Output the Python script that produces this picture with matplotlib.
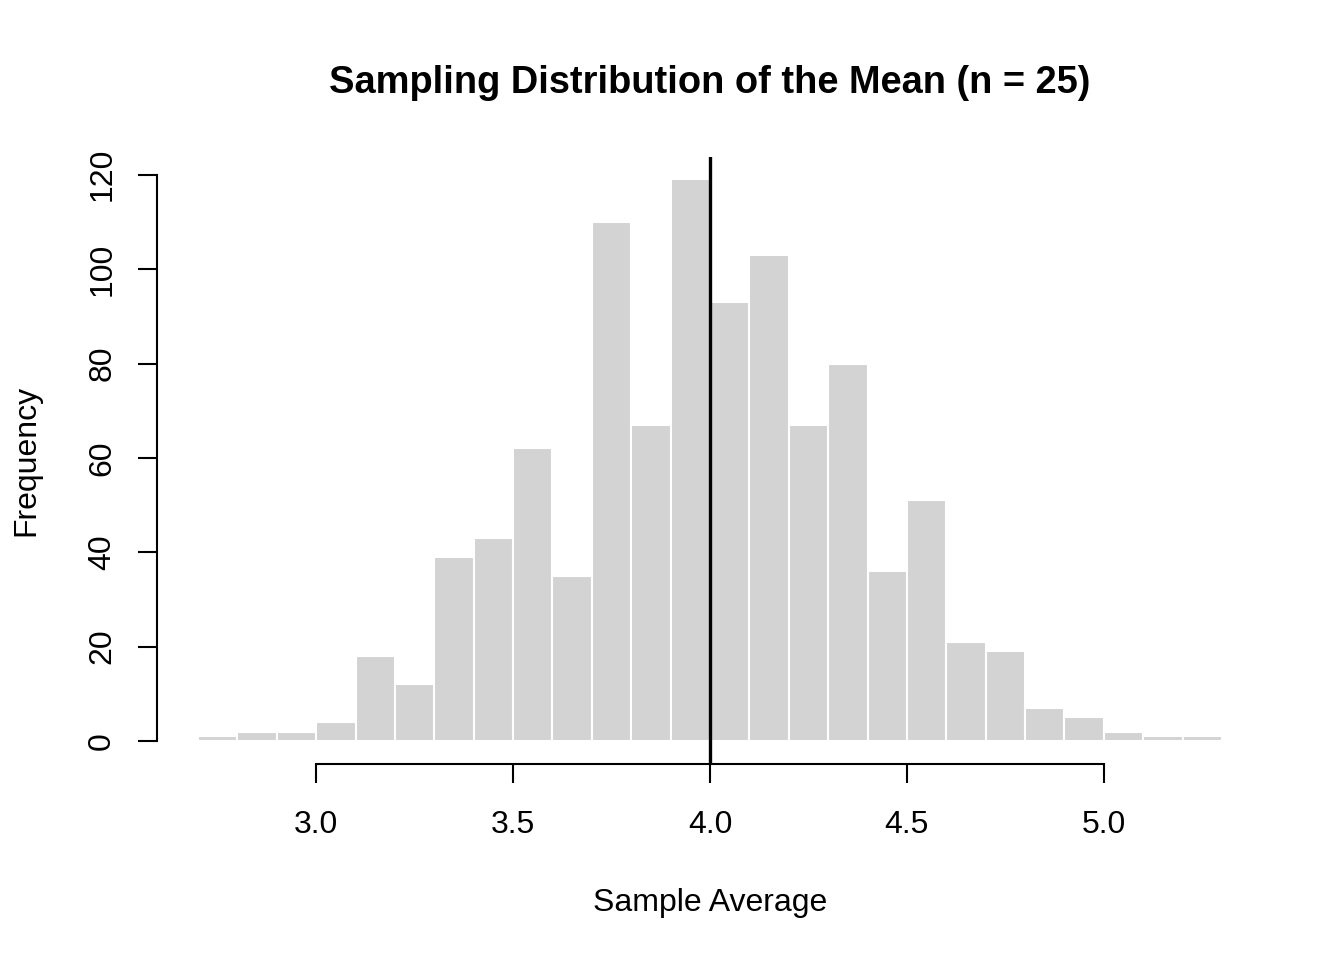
import matplotlib
matplotlib.use("Agg")
import matplotlib.pyplot as plt
import numpy as np

plt.rcParams['font.family'] = ['Liberation Sans', 'DejaVu Sans']

bin_edges = [round(2.7 + 0.1 * i, 1) for i in range(27)]
counts = [1, 2, 2, 4, 18, 12, 39, 43, 62, 35, 110, 67, 119,
          93, 103, 67, 80, 36, 51, 21, 19, 7, 5, 2, 1, 1]
x_ticks = [3.0, 3.5, 4.0, 4.5, 5.0]
x_tick_labels = ["3.0", "3.5", "4.0", "4.5", "5.0"]
y_ticks = [0, 20, 40, 60, 80, 100, 120]
mean_value = 4.0

fig = plt.figure(figsize=(13.44, 9.6), dpi=100)
ax = fig.add_axes([157/1344, 1 - 763.5/960, (1263 - 157)/1344, (763.5 - 157)/960])

lefts = bin_edges[:-1]
widths = [bin_edges[i + 1] - bin_edges[i] for i in range(len(counts))]
ax.bar(lefts, counts, width=widths, align='edge', color='#D3D3D3',
       edgecolor='white', linewidth=1.5)
ax.axvline(mean_value, color='black', linewidth=2.4)

xr = bin_edges[-1] - bin_edges[0]
ax.set_xlim(bin_edges[0] - 0.04 * xr, bin_edges[-1] + 0.04 * xr)
ymax = max(counts)
ax.set_ylim(-0.04 * ymax, ymax * 1.04)

for s in ['top', 'right']:
    ax.spines[s].set_visible(False)
ax.spines['left'].set_bounds(y_ticks[0], y_ticks[-1])
ax.spines['bottom'].set_bounds(x_ticks[0], x_ticks[-1])
for s in ['left', 'bottom']:
    ax.spines[s].set_linewidth(1.5)

ax.set_xticks(x_ticks)
ax.set_xticklabels(x_tick_labels)
ax.set_yticks(y_ticks)
ax.set_yticklabels([str(v) for v in y_ticks], rotation=90, va='center')
ax.tick_params(axis='both', length=13.7, width=1.5, labelsize=23)
ax.tick_params(axis='x', pad=20)
ax.tick_params(axis='y', pad=15)

ax.set_xlabel("Sample Average", fontsize=23, labelpad=34.5)
ax.set_ylabel("Frequency", fontsize=23, labelpad=33)
fig.text(710/1344, 1 - 83/960, "Sampling Distribution of the Mean (n = 25)",
         fontsize=27.4, fontweight='bold', ha='center', va='center')

fig.savefig("out.png", dpi=100)
